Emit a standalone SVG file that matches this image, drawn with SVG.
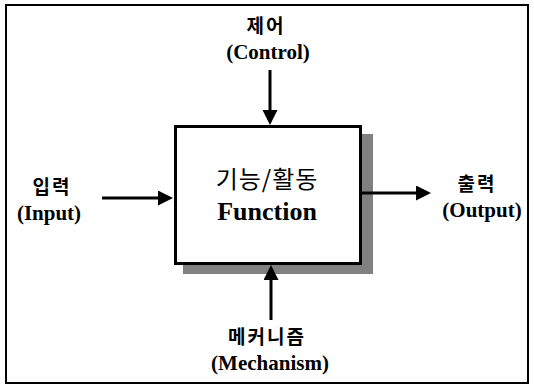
<svg xmlns="http://www.w3.org/2000/svg" width="534" height="387" viewBox="0 0 534 387">
<style>
.kr{font-family:"Noto Sans CJK KR","Noto Sans",sans-serif;font-weight:bold;font-size:19px;text-anchor:middle;fill:#000;letter-spacing:2px}
.en{font-family:"Liberation Serif","Times New Roman",serif;font-weight:bold;font-size:21px;text-anchor:middle;fill:#000}
.conn{stroke:#000;stroke-width:3;fill:none}
</style>
<defs>
<marker id="ah" markerUnits="userSpaceOnUse" markerWidth="16" markerHeight="16" refX="0" refY="7.5" orient="auto" viewBox="0 0 16 16"><path d="M0,0 L15,7.5 L0,15 z" fill="#000"/></marker>
</defs>
<rect x="0" y="0" width="534" height="387" fill="#fff"/>
<rect x="6" y="5" width="522" height="378" fill="none" stroke="#000" stroke-width="2"/>
<g id="function">
<rect x="183" y="134" width="190" height="140" fill="#808080"/>
<rect x="175.5" y="126.5" width="185" height="137" fill="#fff" stroke="#000" stroke-width="3"/>
<text x="267" y="188" font-family="'Noto Sans CJK KR','Noto Sans',sans-serif" font-size="24" text-anchor="middle" letter-spacing="1">기능/활동</text>
<text x="267" y="220" font-family="'Liberation Serif','Times New Roman',serif" font-weight="bold" font-size="26" text-anchor="middle">Function</text>
</g>
<g id="control">
<text class="kr" x="266" y="33">제어</text>
<text class="en" x="268" y="59">(Control)</text>
</g>
<g id="input">
<text class="kr" x="52" y="194">입력</text>
<text class="en" x="49" y="220">(Input)</text>
</g>
<g id="output">
<text class="kr" x="477" y="191">출력</text>
<text class="en" x="482" y="217">(Output)</text>
</g>
<g id="mechanism">
<text class="kr" x="267" y="344">메커니즘</text>
<text class="en" x="270" y="370">(Mechanism)</text>
</g>
<g id="connectors">
<line class="conn" x1="270" y1="70" x2="270" y2="110" marker-end="url(#ah)"/>
<line class="conn" x1="102" y1="198" x2="158" y2="198" marker-end="url(#ah)"/>
<line class="conn" x1="362" y1="193" x2="416" y2="193" marker-end="url(#ah)"/>
<line class="conn" x1="271" y1="320" x2="271" y2="280" marker-end="url(#ah)"/>
</g>
</svg>
